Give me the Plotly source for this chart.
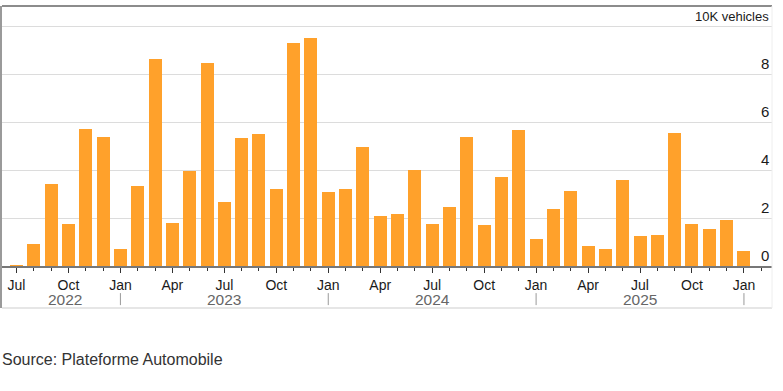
import plotly.graph_objects as go

# Monthly values, Jul 2022 .. Jan 2026 (10K vehicles)
months = ["Jul 2022", "Aug 2022", "Sep 2022", "Oct 2022", "Nov 2022", "Dec 2022",
          "Jan 2023", "Feb 2023", "Mar 2023", "Apr 2023", "May 2023", "Jun 2023",
          "Jul 2023", "Aug 2023", "Sep 2023", "Oct 2023", "Nov 2023", "Dec 2023",
          "Jan 2024", "Feb 2024", "Mar 2024", "Apr 2024", "May 2024", "Jun 2024",
          "Jul 2024", "Aug 2024", "Sep 2024", "Oct 2024", "Nov 2024", "Dec 2024",
          "Jan 2025", "Feb 2025", "Mar 2025", "Apr 2025", "May 2025", "Jun 2025",
          "Jul 2025", "Aug 2025", "Sep 2025", "Oct 2025", "Nov 2025", "Dec 2025",
          "Jan 2026"]
values = [0.07, 0.94, 3.46, 1.78, 5.72, 5.39,
          0.74, 3.36, 8.67, 1.81, 3.99, 8.47,
          2.70, 5.35, 5.53, 3.24, 9.33, 9.53,
          3.10, 3.22, 4.98, 2.11, 2.18, 4.03,
          1.77, 2.50, 5.42, 1.74, 3.75, 5.70,
          1.14, 2.39, 3.14, 0.86, 0.72, 3.63,
          1.29, 1.32, 5.56, 1.77, 1.58, 1.93,
          0.65]
quarter_labels = ["Jul", "Oct", "Jan", "Apr"]
year_labels = ["2022", "2023", "2024", "2025"]
y_ticks = [0, 2, 4, 6, 8]
unit_label = "10K vehicles"
source = "Source: Plateforme Automobile"

x_idx = list(range(len(months)))
quarter_idx = [i for i, m in enumerate(months) if m.split()[0] in quarter_labels]
quarter_text = [months[i].split()[0] for i in quarter_idx]
jan_idx = [i for i, m in enumerate(months) if m.startswith("Jan")]
year_pos = [2.8] + [(jan_idx[k] + jan_idx[k + 1]) / 2 for k in range(len(jan_idx) - 1)]

FONT = "Liberation Sans, Arial, sans-serif"
BAR = "#FFA12B"

fig = go.Figure()
fig.add_trace(go.Bar(x=x_idx, y=values, marker=dict(color=BAR, line=dict(width=0)),
                     width=0.75, hoverinfo="skip"))

Y0, Y1 = -1.72, 10.86
base_pos = (0 - Y0) / (Y1 - Y0)

fig.update_layout(
    width=783, height=391,
    margin=dict(l=2, r=11, t=6, b=83),
    paper_bgcolor="white", plot_bgcolor="white",
    showlegend=False,
    bargap=0,
    font=dict(family=FONT, color="#222"),
    xaxis=dict(
        range=[-0.837, 43.62], anchor="free", position=base_pos,
        showgrid=False, zeroline=False,
        showline=True, linecolor="#777", linewidth=2,
        tickmode="array", tickvals=quarter_idx, ticktext=quarter_text,
        ticks="outside", ticklen=5, tickcolor="#333", tickwidth=1,
        tickfont=dict(size=14, color="#1a1a1a", family=FONT),
        minor=dict(tickmode="linear", tick0=0, dtick=1, ticks="outside",
                   ticklen=3, tickcolor="#333", tickwidth=1, showgrid=False),
    ),
    yaxis=dict(
        range=[Y0, Y1], tickmode="array", tickvals=[2, 4, 6, 8, 10],
        showgrid=True, gridcolor="#dcdcdc", gridwidth=1,
        showticklabels=False, zeroline=False,
        showline=True, linecolor="#9a9a9a", linewidth=2,
    ),
)

# top border, bottom & right light lines
fig.add_shape(type="line", xref="paper", yref="paper", x0=0, x1=1, y0=1, y1=1,
              line=dict(color="#8c8c8c", width=2))
fig.add_shape(type="line", xref="paper", yref="paper", x0=0, x1=1, y0=0, y1=0,
              line=dict(color="#e6e6e6", width=2))
fig.add_shape(type="line", xref="paper", yref="paper", x0=1, x1=1, y0=0, y1=1,
              line=dict(color="#eeeeee", width=1))

# y labels
for v in y_ticks:
    fig.add_annotation(x=1, xref="paper", y=v, yref="y", text=str(v),
                       showarrow=False, xanchor="right", yanchor="bottom",
                       xshift=-1, yshift=1, font=dict(size=15, color="#1a1a1a", family=FONT))
fig.add_annotation(x=1, xref="paper", y=10, yref="y", text=unit_label,
                   showarrow=False, xanchor="right", yanchor="bottom",
                   xshift=-1, yshift=1, font=dict(size=13, color="#1a1a1a", family=FONT))

# year labels and separators
for xp, t in zip(year_pos, year_labels):
    fig.add_annotation(x=xp, xref="x", y=-1.36, yref="y", text=t, showarrow=False,
                       font=dict(size=15.5, color="#666", family=FONT))
for j in jan_idx:
    fig.add_shape(type="line", xref="x", yref="y", x0=j, x1=j, y0=-1.1, y1=-1.6,
                  line=dict(color="#999", width=1))

fig.add_annotation(x=0, xref="paper", y=(391 - 83 - 359) / (391 - 6 - 83), yref="paper",
                   text=source, showarrow=False, xanchor="left", yanchor="middle",
                   xshift=-2, font=dict(size=16, color="#333", family=FONT))

fig.write_html("out.html", config={"displayModeBar": False},
               post_script="document.body.style.margin='0';document.body.style.padding='0';")
